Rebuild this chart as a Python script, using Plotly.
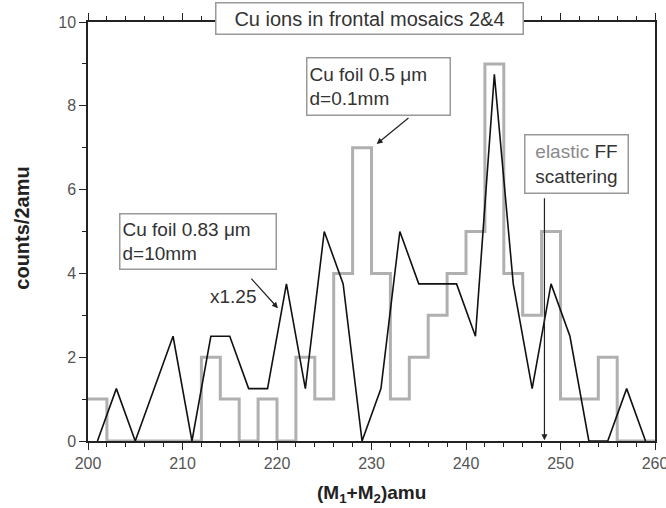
import plotly.graph_objects as go

# Black line (Cu foil 0.83 um, scaled x1.25)
line_x = [201, 203, 205, 207, 209, 211, 213, 215, 217, 219, 221, 223, 225, 227, 229,
          231, 233, 235, 237, 239, 241, 243, 245, 247, 249, 251, 253, 255, 257, 259]
line_y = [0, 1.25, 0, 1.25, 2.5, 0, 2.5, 2.5, 1.25, 1.25, 3.75, 1.25, 5.0, 3.75, 0,
          1.25, 5.0, 3.75, 3.75, 3.75, 2.5, 8.75, 3.75, 1.25, 3.75, 2.5, 0, 0, 1.25, 0]

# Gray histogram (Cu foil 0.5 um), bins of 2 amu starting at left edges
hist_edges = [200, 202, 204, 206, 208, 210, 212, 214, 216, 218, 220, 222, 224, 226, 228,
              230, 232, 234, 236, 238, 240, 242, 244, 246, 248, 250, 252, 254, 256, 258]
hist_counts = [1, 0, 0, 0, 0, 0, 2, 1, 0, 1, 0, 2, 1, 4, 7,
               4, 1, 2, 3, 4, 5, 9, 4, 3, 5, 1, 1, 2, 0, 0]

x_ticks = [200, 210, 220, 230, 240, 250, 260]
y_ticks = [0, 2, 4, 6, 8, 10]

FONT = "Liberation Sans, Arial, sans-serif"
TXT = "#333333"

fig = go.Figure()

fig.add_trace(go.Scatter(
    x=hist_edges + [hist_edges[-1] + 2],
    y=hist_counts + [hist_counts[-1]],
    mode="lines", line=dict(shape="hv", color="#b0b0b0", width=3),
    showlegend=False, hoverinfo="skip"))

fig.add_trace(go.Scatter(
    x=line_x, y=line_y, mode="lines",
    line=dict(color="#111111", width=1.6),
    showlegend=False, hoverinfo="skip"))

axis_common = dict(
    showgrid=False, zeroline=False, showline=True, linecolor="#222222", linewidth=1.5,
    ticks="outside", tickcolor="#222222", tickwidth=1.2, ticklen=7,
    tickfont=dict(family=FONT, size=16, color="#555555"),
    ticklabeloverflow="allow", automargin=False,
)

fig.update_xaxes(range=[200, 260], tickvals=x_ticks, mirror="ticks",
                 minor=dict(dtick=2, ticks="outside", ticklen=4, tickcolor="#222222"),
                 **axis_common)
fig.update_yaxes(range=[0, 10], tickvals=y_ticks, mirror=True,
                 minor=dict(dtick=1, ticks="outside", ticklen=4, tickcolor="#222222"),
                 **axis_common)

# Arrows
fig.add_annotation(x=230.55, y=7.09, ax=234.07, ay=7.74, axref="x", ayref="y",
                   text="", showarrow=True, arrowhead=2, arrowsize=1, arrowwidth=1.2,
                   arrowcolor="#222222")
fig.add_annotation(x=220.1, y=3.17, ax=217.14, ay=3.91, axref="x", ayref="y",
                   text="", showarrow=True, arrowhead=2, arrowsize=1, arrowwidth=1.2,
                   arrowcolor="#222222")
fig.add_annotation(x=248.3, y=0.02, ax=248.3, ay=5.83, axref="x", ayref="y",
                   text="", showarrow=True, arrowhead=2, arrowsize=1, arrowwidth=1.2,
                   arrowcolor="#222222")

box = dict(showarrow=False, bgcolor="white", bordercolor="#999999", borderwidth=1.5,
           borderpad=2)

fig.add_annotation(xref="paper", yref="paper", x=(369.5 - 88) / 567, y=(441 - 19) / 419,
                   xanchor="center", yanchor="middle",
                   text="Cu ions in frontal mosaics 2&4",
                   width=302, height=26, align="center",
                   font=dict(family=FONT, size=20, color=TXT), **box)
fig.add_annotation(xref="x", yref="y", x=230.69, y=8.47, text="Cu foil 0.5 μm<br>d=0.1mm",
                   width=138, height=52, align="left",
                   font=dict(family=FONT, size=19, color=TXT), **box)
fig.add_annotation(xref="x", yref="y", x=211.59, y=4.75, text="Cu foil 0.83 μm<br>d=10mm",
                   width=151, height=50, align="left",
                   font=dict(family=FONT, size=19, color=TXT), **box)
fig.add_annotation(xref="x", yref="y", x=251.69, y=6.62,
                   text="<span style='color:#8a8a8a'>elastic</span> FF<br>scattering",
                   width=98, height=53, align="center",
                   font=dict(family=FONT, size=19, color=TXT), **box)
fig.add_annotation(xref="x", yref="y", x=215.34, y=3.46, text="x1.25", showarrow=False,
                   font=dict(family=FONT, size=19, color=TXT))

# Axis titles
fig.add_annotation(xref="paper", yref="paper", x=(21.7 - 88) / 567, y=(441 - 228) / 419,
                   xanchor="center", yanchor="middle", textangle=-90,
                   text="<b>counts/2amu</b>", showarrow=False,
                   font=dict(family=FONT, size=20, color="#222222"))
fig.add_annotation(xref="paper", yref="paper", x=(371.5 - 88) / 567, y=(441 - 494) / 419,
                   xanchor="center", yanchor="middle",
                   text="<b>(M<sub>1</sub>+M<sub>2</sub>)amu</b>", showarrow=False,
                   font=dict(family=FONT, size=19, color="#222222"))

fig.update_layout(width=666, height=508, margin=dict(l=88, r=11, t=22, b=67, autoexpand=False),
                  plot_bgcolor="white", paper_bgcolor="white",
                  font=dict(family=FONT))

fig.write_html("out.html")
